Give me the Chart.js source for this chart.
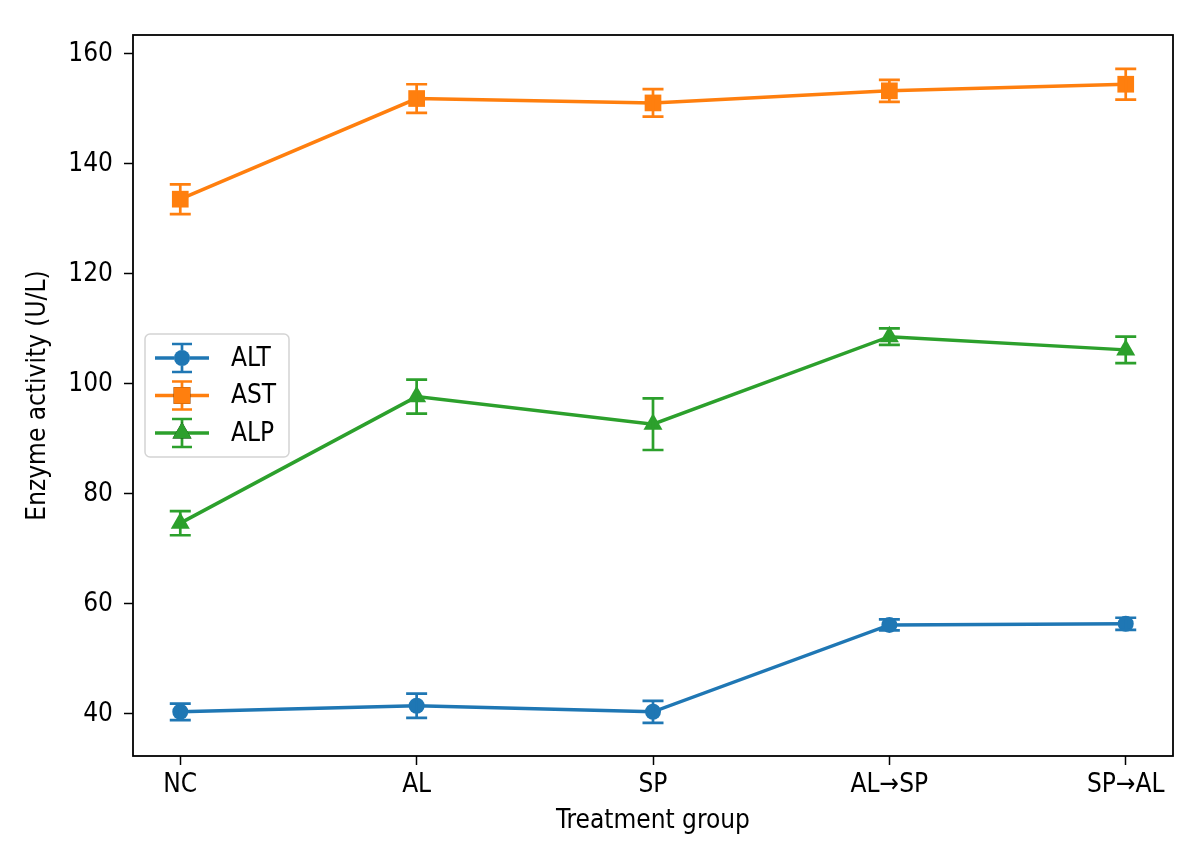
<!DOCTYPE html>
<html>
<head>
<meta charset="utf-8">
<script src="https://cdn.jsdelivr.net/npm/chart.js@4.4.0/dist/chart.umd.min.js"></script>
<style>
  html, body { margin: 0; padding: 0; background: #fff; }
  #wrap { width: 1200px; height: 866px; }
</style>
</head>
<body>
<div id="wrap"><canvas id="enzymeChart"></canvas></div>
<script>
// values
const groups = ['NC', 'AL', 'SP', 'AL→SP', 'SP→AL'];
const altMean = [40.4, 41.5, 40.4, 56.2, 56.4];
const altErr = [1.5, 2.2, 2.0, 1.0, 1.1];
const astMean = [133.6, 151.9, 151.1, 153.3, 154.5];
const astErr = [2.7, 2.6, 2.5, 2.0, 2.8];
const alpMean = [74.7, 97.7, 92.7, 108.6, 106.2];
const alpErr = [2.2, 3.1, 4.7, 1.5, 2.4];
const yTicks = [40, 60, 80, 100, 120, 140, 160];

const seriesColors = ['#1f77b4', '#ff7f0e', '#2ca02c'];
const fontFamily = '"DejaVu Sans Condensed", "DejaVu Sans", sans-serif';
const fontSize = 26;

const toPoints = (vals) => vals.map((v, i) => ({ x: i, y: v }));

function makeSet(label, vals, errs, color, style, radius) {
    return {
        label: label,
        data: toPoints(vals),
        errors: errs,
        borderColor: color,
        backgroundColor: color,
        borderWidth: 3.5,
        pointStyle: style,
        pointRadius: radius,
        pointHoverRadius: radius,
        pointBorderWidth: 0,
        tension: 0,
        fill: false,
    };
}

// draws the vertical error bars with caps
const errorBars = {
    id: 'errorBars',
    afterDatasetsDraw(chart) {
        const ctx = chart.ctx;
        const xs = chart.scales.x, ys = chart.scales.y;
        chart.data.datasets.forEach((ds) => {
            ctx.save();
            ctx.strokeStyle = ds.borderColor;
            ctx.lineWidth = 2.7;
            ds.data.forEach((p, i) => {
                const e = ds.errors[i];
                const px = xs.getPixelForValue(p.x);
                const top = ys.getPixelForValue(p.y + e);
                const bot = ys.getPixelForValue(p.y - e);
                ctx.beginPath();
                ctx.moveTo(px, top); ctx.lineTo(px, bot);
                ctx.moveTo(px - 10.5, top); ctx.lineTo(px + 10.5, top);
                ctx.moveTo(px - 10.5, bot); ctx.lineTo(px + 10.5, bot);
                ctx.stroke();
            });
            ctx.restore();
        });
    }
};

// frame around the plot area, like matplotlib spines
const frame = {
    id: 'frame',
    afterDraw(chart) {
        const a = chart.chartArea, ctx = chart.ctx;
        ctx.save();
        ctx.strokeStyle = '#000';
        ctx.lineWidth = 1.8;
        ctx.strokeRect(a.left, a.top, a.right - a.left, a.bottom - a.top);
        ctx.restore();
    }
};

// legend inside the axes, with error bar handles
const insideLegend = {
    id: 'insideLegend',
    afterDraw(chart) {
        const ctx = chart.ctx;
        const bx = 145, by = 334, bw = 144, bh = 123;
        ctx.save();
        ctx.fillStyle = 'rgba(255,255,255,0.85)';
        ctx.strokeStyle = '#d4d4d4';
        ctx.lineWidth = 1.5;
        ctx.beginPath();
        ctx.roundRect(bx, by, bw, bh, 5);
        ctx.fill();
        ctx.stroke();
        chart.data.datasets.forEach((ds, i) => {
            const y = 358 + i * 37.5;
            const cx = 182;
            ctx.strokeStyle = ds.borderColor;
            ctx.lineWidth = 3.5;
            ctx.beginPath();
            ctx.moveTo(155, y); ctx.lineTo(209, y);
            ctx.stroke();
            ctx.lineWidth = 2.7;
            ctx.beginPath();
            ctx.moveTo(cx, y - 14); ctx.lineTo(cx, y + 14);
            ctx.moveTo(cx - 10, y - 14); ctx.lineTo(cx + 10, y - 14);
            ctx.moveTo(cx - 10, y + 14); ctx.lineTo(cx + 10, y + 14);
            ctx.stroke();
            Chart.helpers.drawPoint(ctx, {
                pointStyle: ds.pointStyle,
                radius: ds.pointRadius,
                borderWidth: 0,
                rotation: 0
            }, cx, y);
            ctx.fillStyle = ds.borderColor;
            ctx.fill();
            ctx.fillStyle = '#000';
            ctx.font = fontSize + 'px ' + fontFamily;
            ctx.textBaseline = 'middle';
            ctx.textAlign = 'left';
            ctx.fillText(ds.label, 231, y + 1);
        });
        ctx.restore();
    }
};

const chart = new Chart(document.getElementById('enzymeChart').getContext('2d'), {
    type: 'line',
    data: {
        datasets: [
            makeSet('ALT', altMean, altErr, seriesColors[0], 'circle', 8),
            makeSet('AST', astMean, astErr, seriesColors[1], 'rect', 11.8),
            makeSet('ALP', alpMean, alpErr, seriesColors[2], 'triangle', 11),
        ]
    },
    options: {
        responsive: true,
        maintainAspectRatio: false,
        animation: false,
        layout: { padding: { left: 19, top: 35, right: 27, bottom: 25 } },
        plugins: {
            legend: { display: false },
            tooltip: { enabled: false },
        },
        scales: {
            x: {
                type: 'linear',
                min: -0.2,
                max: 4.2,
                afterBuildTicks: (scale) => {
                    scale.ticks = groups.map((g, i) => ({ value: i }));
                },
                afterFit: (scale) => { scale.height = 85; },
                ticks: {
                    callback: (v) => groups[v],
                    color: '#000',
                    font: { family: fontFamily, size: fontSize },
                    padding: 5,
                    maxRotation: 0,
                },
                grid: {
                    drawOnChartArea: false,
                    tickLength: 9,
                    tickColor: '#000',
                    tickWidth: 1.5,
                },
                border: { display: false },
                title: {
                    display: true,
                    text: 'Treatment group',
                    color: '#000',
                    font: { family: fontFamily, size: fontSize },
                    padding: { top: 4, bottom: 4 },
                },
            },
            y: {
                min: 32.36,
                max: 163.45,
                afterBuildTicks: (scale) => {
                    scale.ticks = yTicks.map((v) => ({ value: v }));
                },
                afterFit: (scale) => { scale.width = 114; },
                ticks: {
                    color: '#000',
                    font: { family: fontFamily, size: fontSize },
                    padding: 11,
                },
                grid: {
                    drawOnChartArea: false,
                    tickLength: 9,
                    tickColor: '#000',
                    tickWidth: 1.5,
                },
                border: { display: false },
                title: {
                    display: true,
                    text: 'Enzyme activity (U/L)',
                    color: '#000',
                    font: { family: fontFamily, size: fontSize },
                    padding: { top: 4, bottom: 4 },
                },
            },
        },
    },
    plugins: [errorBars, frame, insideLegend],
});
</script>
</body>
</html>
